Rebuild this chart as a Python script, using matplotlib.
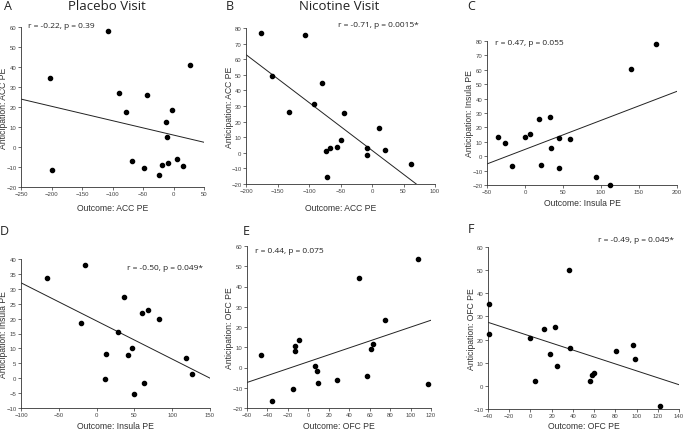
import numpy as np
import matplotlib
matplotlib.use("Agg")
import matplotlib.pyplot as plt

# panel data
a_x = [-203, -199, -108, -89, -78, -68, -48, -43, -23, -19, -12, -10, -8.5, -2.5, 6, 15.5, 27]
a_y = [34.5, -11.6, 57.8, 27.1, 17.6, -7.2, -10.6, 25.9, -14.1, -9.2, 12.6, 4.9, -8.1, 18.7, -5.9, -9.7, 40.8]

b_x = [-176, -158, -131, -106, -91.5, -80, -73, -71, -67, -55, -50, -45, -7.4, -7.4, 11, 21, 62]
b_y = [76.5, 49.3, 26, 75.3, 31.3, 45, 1.1, -15.6, 3, 3.8, 8.1, 25.2, 2.8, -1.5, 15.8, 1.9, -7.2]

c_x = [-35, -26.4, -17.2, 0, 6.6, 17.8, 20.5, 32.7, 34.6, 45, 44.6, 58.6, 94, 111.6, 140, 173]
c_y = [13.2, 9.3, -6.9, 13, 15.7, 25.5, -6, 27.1, 6, 12.3, -7.9, 11.6, -14.4, -20, 60.4, 77.8]

d_x = [-65.7, -15, -20.8, 12.7, 11.4, 28.1, 36.9, 41.3, 46.6, 50.1, 60.2, 62.4, 68.6, 83.1, 118.8, 125.8]
d_y = [33.7, 38, 18.6, 8, -0.2, 15.5, 27.1, 7.9, 10.2, -5.2, 22, -1.6, 22.8, 19.8, 6.9, 1.4]

e_x = [-46, -35.5, -15.2, -13, -12.7, -9.1, 6.1, 8.9, 9.2, 27.8, 50, 57.6, 60.9, 63.2, 75.3, 107.6, 116.8]
e_y = [6, -16.5, -10.6, 8, 10.6, 13.4, 0.7, -1.9, -7.8, -6, 44.1, -4.2, 8.9, 11.7, 23.5, 53.8, -8]

f_x = [-39.4, -39, -0.6, 4.7, 12.8, 18.8, 23.2, 25.4, 36.3, 37, 55.8, 58.3, 59.9, 80.5, 96.8, 98.1, 121.9]
f_y = [35.3, 22.3, 20.7, 2.3, 24.4, 13.8, 25.6, 8.5, 50.1, 16.2, 2.3, 4.6, 5.7, 14.9, 17.5, 11.8, -8.5]

stats = ["r = -0.22, p = 0.39", "r = -0.71, p = 0.0015*", "r = 0.47, p = 0.055",
         "r = -0.50, p = 0.049*", "r = 0.44, p = 0.075", "r = -0.49, p = 0.045*"]
xlabels = ["Outcome: ACC PE", "Outcome: ACC PE", "Outcome: Insula PE",
           "Outcome: Insula PE", "Outcome: OFC PE", "Outcome: OFC PE"]
ylabels = ["Anticipation: ACC PE", "Anticipation: ACC PE", "Anticipation: Insula PE",
           "Anticipation: Insula PE", "Anticipation: OFC PE", "Anticipation: OFC PE"]
letters = ["A", "B", "C", "D", "E", "F"]

W, H = 685, 431
fig = plt.figure(figsize=(W / 100, H / 100), dpi=100)

# axes boxes in pixels: left, top, right, bottom
boxes = [(21, 28, 204, 188), (246, 29, 435, 185), (487, 42, 677, 186),
         (21, 260, 210, 409), (247, 247, 431, 409), (488, 248, 679, 410)]
xlims = [(-250, 50, 50), (-200, 100, 50), (-50, 200, 50), (-100, 150, 50), (-60, 120, 20), (-40, 140, 20)]
ylims = [(-20, 60, 10), (-20, 80, 10), (-20, 80, 10), (-10, 40, 5), (-20, 60, 10), (-10, 60, 10)]
# stat text: (x frac, y frac, ha)
stat_pos = [(0.038, 1.012, "left"), (0.915, 1.02, "right"), (0.042, 0.99, "left"),
            (0.963, 0.942, "right"), (0.042, 0.971, "left"), (0.972, 1.047, "right")]
xlab_off = [20, 23, 17, 17, 17, 16]
letter_pos = [(8, 7), (230, 7), (471, 7), (4, 232), (246, 232), (471, 230)]

data = [(a_x, a_y), (b_x, b_y), (c_x, c_y), (d_x, d_y), (e_x, e_y), (f_x, f_y)]

for i, (x, y) in enumerate(data):
    l, t, r, b = boxes[i]
    w, h = r - l, b - t
    ax = fig.add_axes([l / W, 1 - b / H, w / W, h / H])
    x = np.array(x, dtype=float)
    y = np.array(y, dtype=float)
    x0, x1, xs = xlims[i]
    y0, y1, ys = ylims[i]

    slope, icpt = np.polyfit(x, y, 1)
    xx = np.array([x0, x1])
    ax.plot(xx, slope * xx + icpt, color="#222222", lw=0.7)
    ax.scatter(x, y, s=9, color="black", zorder=3, clip_on=False)

    ax.set_xlim(x0, x1)
    ax.set_ylim(y0, y1)
    ax.set_xticks(np.arange(x0, x1 + 1, xs))
    ax.set_yticks(np.arange(y0, y1 + 1, ys))
    for s in ["top", "right"]:
        ax.spines[s].set_visible(False)
    for s in ["left", "bottom"]:
        ax.spines[s].set_linewidth(0.6)
        ax.spines[s].set_color("#333333")
    ax.tick_params(labelsize=4.3, length=2, width=0.5, pad=1.2,
                   colors="#333333", labelcolor="#444444")
    for lab in ax.get_xticklabels() + ax.get_yticklabels():
        lab.set_family("Liberation Sans")

    ax.set_xlabel(xlabels[i], fontsize=6.2, family="Liberation Sans", color="#333333")
    ax.set_ylabel(ylabels[i], fontsize=6.2, family="Liberation Sans", color="#333333")
    ax.xaxis.set_label_coords(0.5, -(xlab_off[i] - 4) / h)
    ax.yaxis.set_label_coords(-12.5 / w, 0.5)

    sx, sy, ha = stat_pos[i]
    ax.text(sx, sy, stats[i], transform=ax.transAxes, ha=ha, va="center",
            fontsize=6, family="Open Sans", color="#222222")

    lx, ly = letter_pos[i]
    fig.text(lx / W, 1 - ly / H, letters[i], ha="center", va="center",
             fontsize=9, family="Open Sans", color="#222222")

fig.text(107 / W, 1 - 7 / H, "Placebo Visit", ha="center", va="center",
         fontsize=9.5, family="Open Sans", color="#222222")
fig.text(339 / W, 1 - 7 / H, "Nicotine Visit", ha="center", va="center",
         fontsize=9.5, family="Open Sans", color="#222222")

fig.savefig("out.png", dpi=100)
